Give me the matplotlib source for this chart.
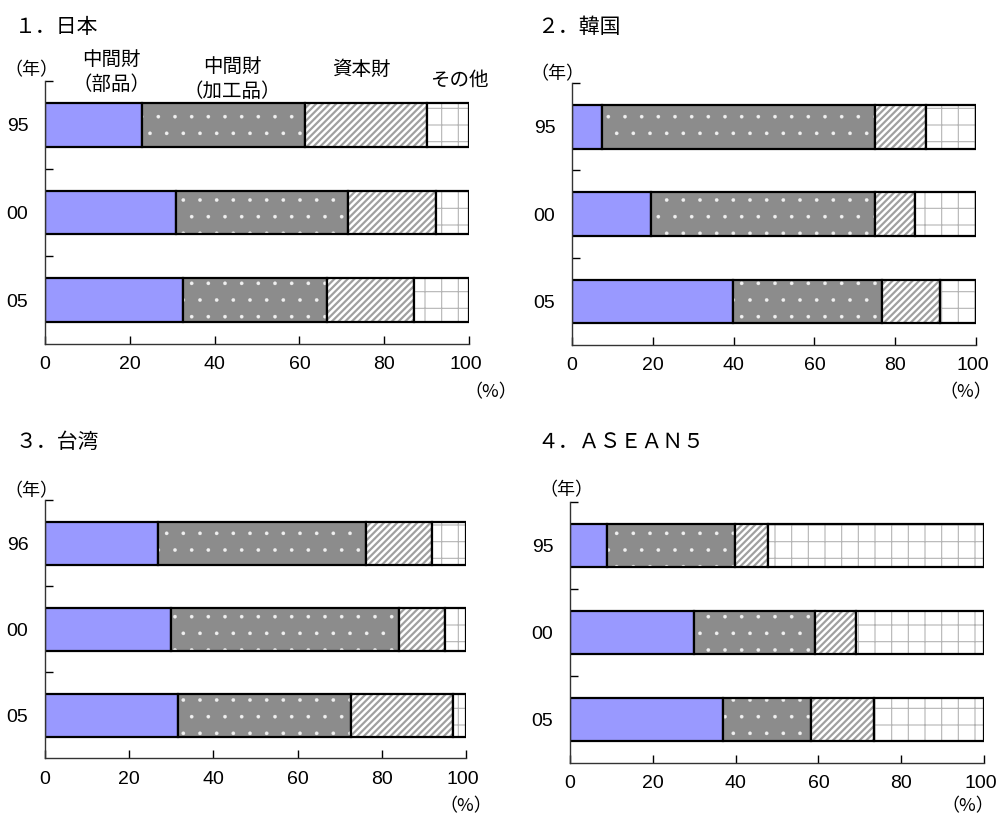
import numpy as np
import matplotlib
matplotlib.use("Agg")
import matplotlib.pyplot as plt
from matplotlib.transforms import ScaledTranslation

plt.rcParams['font.family'] = ['Liberation Sans', 'DejaVu Sans']
plt.rcParams['hatch.linewidth'] = 1.0
CJK = ['Noto Sans CJK JP', 'DejaVu Sans']

# shares (%): parts, processed, capital, other
series_names = ['中間財\n（部品）', '中間財\n（加工品）', '資本財', 'その他']

jp_years = ['95', '00', '05']
jp_parts = [22.9, 30.9, 32.5]
jp_proc = [38.4, 40.6, 34.0]
jp_cap = [28.8, 20.7, 20.5]
jp_other = [9.9, 7.8, 13.0]

kr_years = ['95', '00', '05']
kr_parts = [7.4, 19.6, 39.9]
kr_proc = [67.6, 55.4, 36.8]
kr_cap = [12.6, 9.9, 14.4]
kr_other = [12.4, 15.1, 8.9]

tw_years = ['96', '00', '05']
tw_parts = [26.8, 29.9, 31.6]
tw_proc = [49.4, 54.2, 41.1]
tw_cap = [15.7, 10.9, 24.2]
tw_other = [8.1, 5.0, 3.1]

as_years = ['95', '00', '05']
as_parts = [8.9, 30.0, 37.0]
as_proc = [31.0, 29.2, 21.2]
as_cap = [7.9, 9.9, 15.2]
as_other = [52.2, 30.9, 26.6]

panels = [
    ('１．日本', jp_years, [jp_parts, jp_proc, jp_cap, jp_other]),
    ('２．韓国', kr_years, [kr_parts, kr_proc, kr_cap, kr_other]),
    ('３．台湾', tw_years, [tw_parts, tw_proc, tw_cap, tw_other]),
    ('４．ＡＳＥＡＮ５', as_years, [as_parts, as_proc, as_cap, as_other]),
]

W, H = 998, 818
fig = plt.figure(figsize=(W / 100, H / 100), dpi=100)


def px(x0, y0, x1, y1):
    # pixel box -> figure fraction rect
    return [x0 / W, 1 - y1 / H, (x1 - x0) / W, (y1 - y0) / H]


boxes = [px(45, 81, 469, 344), px(572, 83, 976, 345),
         px(45, 500, 466, 758), px(570, 502, 984, 763)]
title_pos = [(15, 27), (537, 27), (15, 442), (537, 443)]
nen_pos = [(31, 70), (557, 74), (31, 491), (566, 490)]
pct_pos = [(491, 392), (966, 392), (466, 806), (968, 806)]

# style per series: (face, hatch, hatch colour, hatch width)
styles = [('#9999ff', None, None, 0),
          ('#8c8c8c', '.', '#f0f0f0', 0.2),
          ('white', '/////', '#a0a0a0', 1.6),
          ('white', '+', '#b4b4b4', 0.8)]

for (title, years, data), box, tp, npos, ppos in zip(panels, boxes, title_pos, nen_pos, pct_pos):
    ax = fig.add_axes(box)
    y = np.arange(len(years))
    left = np.zeros(len(years))
    for vals, (fc, hatch, hc, hlw) in zip(data, styles):
        vals = np.array(vals)
        if hatch:
            with plt.rc_context({'hatch.linewidth': hlw}):
                bars = ax.barh(y, vals, left=left, height=0.5, color=fc,
                               hatch=hatch, edgecolor=hc, linewidth=0)
            for b in bars:
                if hasattr(b, 'set_hatch_linewidth'):
                    b.set_hatch_linewidth(hlw)
            ax.barh(y, vals, left=left, height=0.5, fill=False,
                    edgecolor='black', linewidth=1.6)
        else:
            ax.barh(y, vals, left=left, height=0.5, color=fc,
                    edgecolor='black', linewidth=1.6)
        left += vals

    ax.set_xlim(0, 100)
    ax.set_ylim(len(years) - 0.5, -0.5)
    ax.set_xticks(np.arange(0, 101, 20))
    ax.set_yticks(y)
    ax.set_yticklabels(years)
    ax.set_yticks(np.arange(-0.5, len(years) - 0.5, 1), minor=True)
    ax.tick_params(axis='both', labelsize=14)
    ax.tick_params(axis='x', direction='in', length=6, width=1, pad=9)
    ax.tick_params(axis='y', which='major', length=0, pad=12)
    ax.tick_params(axis='y', which='minor', direction='in', length=6, width=1)
    for s in ['top', 'right']:
        ax.spines[s].set_visible(False)
    for s in ['left', 'bottom']:
        ax.spines[s].set_linewidth(1.0)
        ax.spines[s].set_color('#333333')

    # keep the last "100" inside the figure edge
    last = ax.get_xticklabels()[-1]
    last.set_transform(last.get_transform()
                       + ScaledTranslation(-0.03, 0, fig.dpi_scale_trans))

    fig.text(tp[0] / W, 1 - tp[1] / H, title, fontsize=15, family=CJK,
             ha='left', va='center')
    fig.text(npos[0] / W, 1 - npos[1] / H, '（年）', fontsize=13, family=CJK,
             ha='center', va='center')
    fig.text(ppos[0] / W, 1 - ppos[1] / H, '（%）', fontsize=13, family=CJK,
             ha='center', va='center')

# series labels above the first panel
label_pos = [(111, 72), (232, 79), (361, 69), (459, 80)]
for name, (lx, ly) in zip(series_names, label_pos):
    fig.text(lx / W, 1 - ly / H, name, fontsize=14, family=CJK, ha='center',
             va='center', linespacing=1.25)

fig.savefig('out.png', dpi=100)
